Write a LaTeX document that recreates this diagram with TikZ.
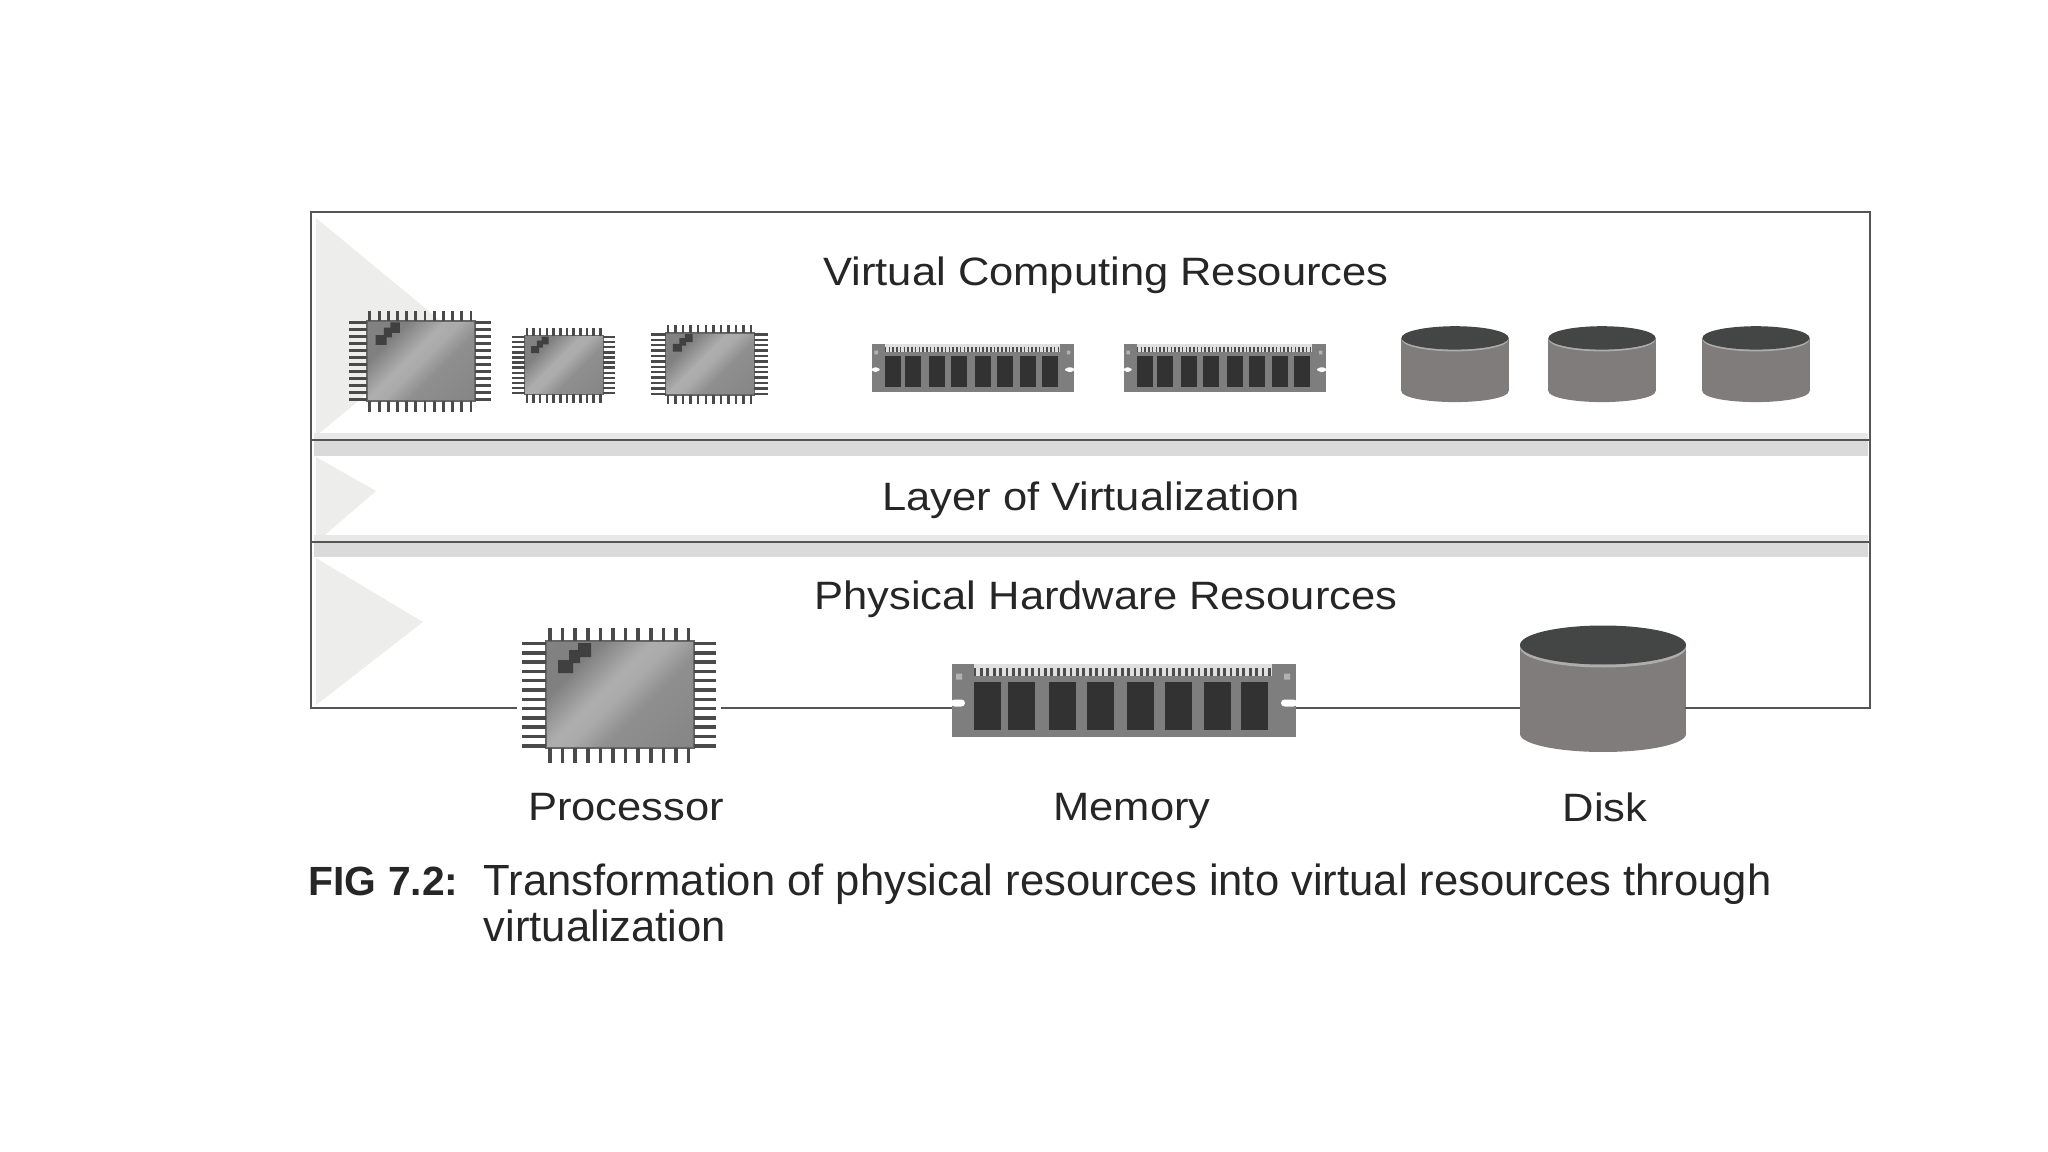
\documentclass[tikz,border=0pt]{standalone}
\usepackage{fontspec}
\setmainfont{Liberation Sans}
\newfontfamily\labelfont[FakeStretch=1.1]{Liberation Sans}

\definecolor{framegray}{HTML}{555555}
\definecolor{bandgray}{HTML}{DADADA}
\definecolor{wedgegray}{HTML}{EDEDEC}
\definecolor{pingray}{HTML}{4A4A4A}
\definecolor{stickgray}{HTML}{7E7E7E}
\definecolor{cellgray}{HTML}{333232}
\definecolor{drumgray}{HTML}{7F7C7B}
\definecolor{lidgray}{HTML}{444545}

\pgfdeclarehorizontalshading{chipsheen}{100bp}{
  color(0bp)=(black!48); color(30bp)=(black!50); color(44bp)=(black!32);
  color(50bp)=(black!33); color(60bp)=(black!44); color(100bp)=(black!50)}

\tikzset{
  frameline/.style={draw=framegray, line width=0.8pt},
  heading/.style={font=\labelfont\fontsize{11.25}{14}\selectfont, text=black!85, inner sep=0pt, anchor=base},
  caption/.style={font=\fontsize{12.4}{13.1}\selectfont, text=black!85, inner sep=0pt, anchor=base west},
  pics/chip/.style={code={
    \fill[shading=chipsheen, shading angle=-45, draw=black!60, line width=0.4pt] (-74,-53.5) rectangle (74,53.5);
    \foreach \k in {0,...,11} {
      \draw[pingray, line width=#1] (-70+\k*12.6,-66.5) -- (-70+\k*12.6,-53.5);
      \draw[pingray, line width=#1] (-70+\k*12.6,53.5) -- (-70+\k*12.6,68.5);
      \draw[pingray, line width=#1] (-98,-51+\k*9.3) -- (-74,-51+\k*9.3);
      \draw[pingray, line width=#1] (74,-51+\k*9.3) -- (96,-51+\k*9.3);
    }
    \fill[black!75] (-62,-34.5) rectangle (-47,-21.5) (-51,-44.5) rectangle (-40,-31.5) (-42,-51.5) rectangle (-29,-37.5);
    \coordinate (-west) at (-103,0);
    \coordinate (-east) at (101,0);
  }},
  pics/memstick/.style={code={
    \fill[stickgray] (-172,-36.5) rectangle (172,36.5);
    \fill[black!12] (-150,-37) rectangle (148,-25);
    \foreach \k in {0,...,46}
      \draw[black!70, line width=#1] (-149+\k*6.4,-33) -- (-149+\k*6.4,-25);
    \foreach \k in {-150,-116,-75,-37,3,41,80,117}
      \fill[cellgray] (\k,-18.5) rectangle (\k+27,29.5);
    \fill[black!30] (-168,-27) rectangle (-162,-21) (160,-27) rectangle (166,-21);
    \fill[white, rounded corners=1pt] (-173,-1) rectangle (-159,6) (157,-1) rectangle (173,6);
    \coordinate (-west) at (-172,7.5);
    \coordinate (-east) at (172,7.5);
  }},
  pics/drum/.style={code={
    \fill[drumgray] (-83,-43.5) rectangle (83,45.5);
    \fill[drumgray] (0,45.5) circle [x radius=83, y radius=18];
    \fill[black!32] (0,-41) circle [x radius=83, y radius=20];
    \fill[lidgray] (0,-43.5) circle [x radius=83, y radius=19.5];
    \coordinate (-west) at (-83,0);
    \coordinate (-east) at (83,0);
  }}
}

\begin{document}
\begin{tikzpicture}[x=0.01cm, y=-0.01cm]
  \useasboundingbox (0,0) rectangle (2048,1152);

  % Shaded parts behind the frame
  \fill[wedgegray] (316,218) -- (448,327) -- (316,436) -- cycle;
  \fill[wedgegray] (316,457) -- (376,491) -- (325,535) -- (316,535) -- cycle;
  \fill[wedgegray] (316,558) -- (423,622) -- (316,705) -- cycle;
  \fill[black!9] (314,433) rectangle (1868,440);
  \fill[bandgray] (314,440) rectangle (1868,456);
  \fill[black!9] (314,535) rectangle (1868,542);
  \fill[bandgray] (314,542) rectangle (1868,557);

  % Frame
  \coordinate (cornerTL) at (311,212);
  \coordinate (cornerTR) at (1870,212);
  \coordinate (cornerBL) at (311,708);
  \coordinate (cornerBR) at (1870,708);
  \coordinate (layerTopL) at (311,440);
  \coordinate (layerTopR) at (1870,440);
  \coordinate (layerBotL) at (311,542);
  \coordinate (layerBotR) at (1870,542);
  \draw[frameline, line cap=rect] (cornerBL) -- (cornerTL) -- (cornerTR) -- (cornerBR);
  \draw[frameline] (layerTopL) -- (layerTopR);
  \draw[frameline] (layerBotL) -- (layerBotR);

  % Headings
  \node[heading] (virtualTitle) at (1106,286) {Virtual Computing Resources};
  \node[heading] (layerTitle) at (1091,511) {Layer of Virtualization};
  \node[heading] (physicalTitle) at (1106,610) {Physical Hardware Resources};

  % Virtual parts
  \pic[xscale=0.73, yscale=0.75] (vChipA) at (421,361) {chip=0.8pt};
  \pic[xscale=0.53, yscale=0.55] (vChipB) at (564,365) {chip=0.7pt};
  \pic[xscale=0.6, yscale=0.58] (vChipC) at (710,364) {chip=0.7pt};
  \pic[xscale=0.587, yscale=0.644] (vMemA) at (973,368) {memstick=0.45pt};
  \pic[xscale=0.587, yscale=0.644] (vMemB) at (1225,368) {memstick=0.45pt};
  \pic[xscale=0.645, yscale=0.6] (vDiskA) at (1455,364) {drum};
  \pic[xscale=0.645, yscale=0.6] (vDiskB) at (1602,364) {drum};
  \pic[xscale=0.645, yscale=0.6] (vDiskC) at (1756,364) {drum};

  % Physical parts
  \pic (hwChip) at (620,694.5) {chip=1pt};
  \pic (hwMem) at (1124,700.5) {memstick=0.8pt};
  \pic (hwDisk) at (1603,688.5) {drum};

  % Bottom edge, broken by the parts
  \draw[frameline] (cornerBL) -- (hwChip-west |- cornerBL);
  \draw[frameline] (hwChip-east |- cornerBL) -- (hwMem-west);
  \draw[frameline] (hwMem-east) -- (hwDisk-west |- cornerBL);
  \draw[frameline, line cap=rect] (hwDisk-east |- cornerBR) -- (cornerBR);

  % Labels
  \node[heading] (cpuLabel) at (626,820) {Processor};
  \node[heading] (memLabel) at (1132,820) {Memory};
  \node[heading] (diskLabel) at (1605,821) {Disk};

  % Caption
  \node[caption, font=\fontsize{11.6}{13.1}\selectfont\bfseries] (figTag) at (308,895) {FIG 7.2:};
  \node[caption] (figTextA) at (483,895) {Transformation of physical resources into virtual resources through};
  \node[caption] (figTextB) at (483,941) {virtualization};
\end{tikzpicture}
\end{document}
